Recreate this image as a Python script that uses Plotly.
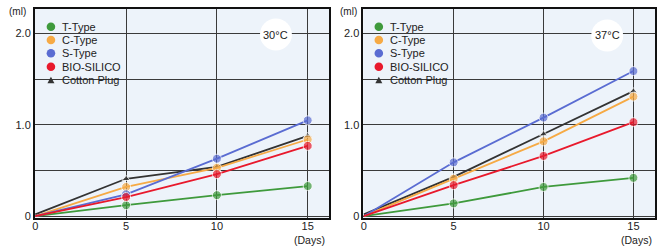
import plotly.graph_objects as go

# ---------------- data ----------------
days = [0, 5, 10, 15]
series_names = ["T-Type", "C-Type", "S-Type", "BIO-SILICO", "Cotton Plug"]
panel_titles = ["30°C", "37°C"]

t30 = [0, 0.12, 0.23, 0.33]
c30 = [0, 0.32, 0.53, 0.84]
s30 = [0, 0.24, 0.63, 1.05]
bio30 = [0, 0.21, 0.46, 0.77]
cot30 = [0.02, 0.41, 0.54, 0.88]

t37 = [0, 0.14, 0.32, 0.42]
c37 = [0, 0.41, 0.82, 1.31]
s37 = [0, 0.59, 1.08, 1.59]
bio37 = [0, 0.34, 0.66, 1.03]
cot37 = [0.02, 0.43, 0.90, 1.37]

x_ticks = [0, 5, 10, 15]
y_ticks = [0, 1, 2]
y_ticktext = ["0", "1.0", "2.0"]
y_minor = [0.5, 1.5]

# ---------------- style ----------------
colors = ["#3f9a3c", "#f6aa45", "#5a6cd2", "#e8192c", "#333333"]
FONT = "Liberation Sans, Arial, sans-serif"
W, H = 657, 249
ML, MR, MT, MB = 0, 0, 9, 31
PH = H - MT - MB
BG = "#edf3fa"

def px_x(p):
    return p / W

def px_y(p):
    return (H - MB - p) / PH

fig = go.Figure()

panels = [
    ("x", "y", [t30, c30, s30, bio30, cot30]),
    ("x2", "y2", [t37, c37, s37, bio37, cot37]),
]

draw_order = [4, 0, 1, 2, 3]
for xa, ya, vals in panels:
    for i in draw_order:
        is_cot = i == 4
        fig.add_trace(go.Scatter(
            x=days, y=vals[i], xaxis=xa, yaxis=ya, mode="lines+markers",
            name=series_names[i], showlegend=False,
            line=dict(color=colors[i], width=1.8),
            marker=dict(
                color=colors[i],
                symbol="triangle-up" if is_cot else "circle",
                size=[0, 7, 7, 7] if is_cot else [0, 9, 9, 9],
            ),
            hoverinfo="skip",
        ))

axis_common = dict(
    range=[-0.03, 16.2], tickvals=x_ticks, showgrid=True, gridcolor="#3a3a3a",
    gridwidth=1, showline=True, mirror=True, linecolor="#111", linewidth=1.5,
    zeroline=False, ticks="", ticklabelstandoff=-3,
    tickfont=dict(size=11, color="#222", family=FONT),
)
yaxis_common = dict(
    range=[-0.02, 2.27], tickvals=y_ticks, ticktext=y_ticktext, showgrid=True,
    gridcolor="#3a3a3a", gridwidth=1, showline=True, mirror=True, linecolor="#111",
    linewidth=1.5, zeroline=False, ticks="",
    tickfont=dict(size=11, color="#222", family=FONT),
    minor=dict(tickvals=y_minor, showgrid=True, gridcolor="#3a3a3a", gridwidth=1),
)

dom1 = [px_x(32), px_x(329)]
dom2 = [px_x(363), 1.0]

fig.update_layout(
    width=W, height=H,
    margin=dict(l=ML, r=MR, t=MT, b=MB),
    paper_bgcolor="white", plot_bgcolor=BG,
    font=dict(family=FONT, size=11, color="#222"),
    showlegend=False,
    xaxis=dict(domain=dom1, anchor="y", **axis_common),
    yaxis=dict(domain=[0, 1], anchor="x", **yaxis_common),
    xaxis2=dict(domain=dom2, anchor="y2", **axis_common),
    yaxis2=dict(domain=[0, 1], anchor="x2", **yaxis_common),
)

shapes = []
annotations = []

panel_geo = [
    dict(xref="x", yref="y", left=32, marker_x=48.3, text_x=57, ml_x=15, days_x=309,
         circ=(13.25, 1.99), title=panel_titles[0]),
    dict(xref="x2", yref="y2", left=363, marker_x=378.7, text_x=388, ml_x=348, days_x=638,
         circ=(13.54, 1.98), title=panel_titles[1]),
]
rows = [26.7, 40, 53.3, 66.7, 80.3]

for g in panel_geo:
    shapes.append(dict(type="rect", xref="paper", yref="paper",
                       x0=px_x(g["left"] + 1), x1=px_x(g["left"] + 85),
                       y0=px_y(88), y1=1, fillcolor=BG, line=dict(width=0),
                       layer="between"))
    cx, cy = g["circ"]
    shapes.append(dict(type="circle", xref=g["xref"], yref=g["yref"],
                       xsizemode="pixel", ysizemode="pixel", xanchor=cx, yanchor=cy,
                       x0=-16, x1=16, y0=-16, y1=16, fillcolor="white",
                       line=dict(width=0), layer="between"))
    annotations.append(dict(x=cx, y=cy, xref=g["xref"], yref=g["yref"], text=g["title"],
                            xanchor="center", yanchor="middle",
                            showarrow=False, font=dict(size=11, color="#222")))
    for i, name in enumerate(series_names):
        mx, my = px_x(g["marker_x"]), px_y(rows[i])
        if i < 4:
            shapes.append(dict(type="circle", xref="paper", yref="paper",
                               xsizemode="pixel", ysizemode="pixel", xanchor=mx, yanchor=my,
                               x0=-4.3, x1=4.3, y0=-4.3, y1=4.3, fillcolor=colors[i],
                               line=dict(width=0), layer="above"))
        else:
            shapes.append(dict(type="path", xref="paper", yref="paper",
                               xsizemode="pixel", ysizemode="pixel", xanchor=mx, yanchor=my,
                               path="M -3.5,-3 L 3.5,-3 L 0,3.5 Z", fillcolor=colors[i],
                               line=dict(width=0), layer="above"))
        annotations.append(dict(x=px_x(g["text_x"]), y=my, xref="paper", yref="paper",
                                xanchor="left", yanchor="middle", text=name,
                                showarrow=False, font=dict(size=11, color="#222")))
    annotations.append(dict(x=px_x(g["ml_x"]), y=px_y(12), xref="paper", yref="paper",
                            xanchor="center", yanchor="middle",
                            text="(ml)", showarrow=False, font=dict(size=10, color="#222")))
    annotations.append(dict(x=px_x(g["days_x"]), y=px_y(240), xref="paper", yref="paper",
                            xanchor="center", yanchor="middle",
                            text="(Days)", showarrow=False, font=dict(size=10.5, color="#222")))

fig.update_layout(shapes=shapes, annotations=annotations)

fig.write_html(
    "out.html",
    config={"displayModeBar": False},
    post_script="document.body.style.margin='0';document.body.style.padding='0';"
                "document.body.style.overflow='hidden';",
)
